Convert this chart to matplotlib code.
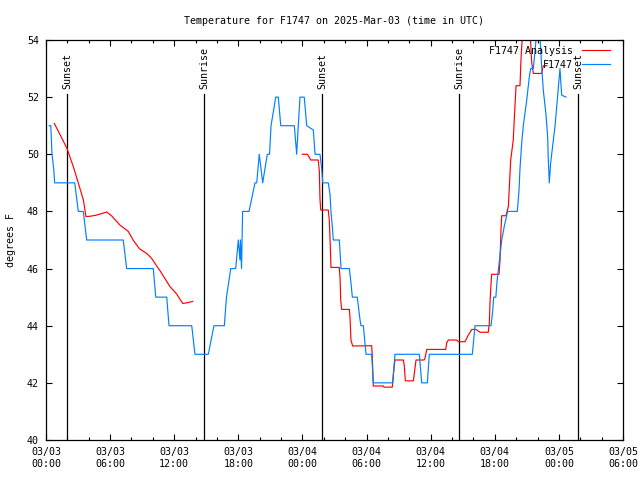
import matplotlib
matplotlib.use("Agg")
import matplotlib.pyplot as plt
from matplotlib.ticker import MultipleLocator

plt.rcParams['font.family'] = ['DejaVu Sans Mono']

title = "Temperature for F1747 on 2025-Mar-03 (time in UTC)"
ylabel = "degrees F"

# x in hours since 03/03 00:00 UTC
obs_hours = [0.3, 0.45, 0.56, 0.72, 0.81, 2.69, 3.02, 3.49, 3.81, 7.23, 7.55, 10.04, 10.27,
             11.3, 11.51, 13.64, 13.94, 15.19, 15.72, 16.69, 16.89, 17.29, 17.75, 18.0, 18.15,
             18.2, 18.3, 18.4, 19.0, 19.56, 19.72, 19.96, 20.28, 20.71, 20.92, 21.06, 21.5,
             21.74, 21.97, 23.24, 23.46, 23.61, 23.77, 24.17, 24.4, 25.02, 25.18, 25.64, 25.8,
             25.9, 26.42, 26.58, 26.67, 26.79, 26.89, 27.45, 27.61, 28.39, 28.54, 28.67, 29.13,
             29.39, 29.48, 29.7, 29.95, 30.48, 30.63, 32.45, 32.66, 34.94, 35.16, 35.69, 35.87,
             39.9, 40.15, 41.65, 41.8, 41.9, 42.1, 42.2, 42.35, 42.5, 42.65, 42.9, 43.2, 44.11,
             44.27, 44.36, 44.52, 44.67, 44.99, 45.23, 45.36, 45.61, 45.86, 46.0, 46.2, 46.39,
             46.54, 46.79, 46.95, 47.0, 47.1, 47.23, 47.42, 47.64, 47.85, 48.1, 48.26, 48.67]
obs_temp = [51, 51, 50, 49.5, 49, 49, 48, 48, 47, 47, 46, 46, 45,
            45, 44, 44, 43, 43, 44, 44, 45, 46, 46, 47, 46.3,
            47, 46, 48, 48, 49, 49, 50, 49, 50, 50, 51, 52,
            52, 51, 51, 50, 51, 52, 52, 51, 50.85, 50, 50, 49.5,
            49, 49, 48.6, 48, 47.5, 47, 47, 46, 46, 45.5, 45, 45,
            44.2, 44, 44, 43, 43, 42, 42, 43, 43, 42, 42, 43,
            43, 44, 44, 44.5, 45, 45, 45.5, 46, 46.5, 47, 47.5, 48, 48,
            48.75, 49.5, 50.4, 51, 51.9, 52.7, 53, 53, 54, 54.5, 54.3, 53.07,
            52.25, 51.4, 50.6, 49.9, 49, 49.7, 50.3, 51, 51.9, 53, 52.07, 52]

ana1_hours = [0.78, 1.5, 1.97, 2.57, 3.06, 3.5, 3.74, 4.1, 4.59, 5.0, 5.68, 6.15, 6.93, 7.7,
              8.17, 8.73, 9.42, 9.88, 10.2, 10.73, 11.6, 12.23, 12.79, 13.17, 13.73]
ana1_temp = [51.08, 50.55, 50.2, 49.55, 48.95, 48.4, 47.82, 47.83, 47.86, 47.9, 47.98, 47.84,
             47.52, 47.3, 46.99, 46.7, 46.53, 46.36, 46.18, 45.89, 45.37, 45.11, 44.78, 44.8, 44.85]

ana2_hours = [23.99, 24.46, 24.64, 24.77, 25.48, 25.58, 25.64, 25.71, 26.42, 26.51, 26.58, 26.67,
              27.45, 27.52, 27.58, 27.67, 28.39, 28.45, 28.54, 28.7, 30.48, 30.54, 30.63, 31.57,
              31.63, 32.41, 32.5, 32.66, 33.44, 33.53, 33.63, 34.38, 34.47, 34.63, 35.38, 35.47,
              35.63, 37.41, 37.5, 37.65, 38.44, 38.59, 39.21, 39.52, 39.84, 40.24, 40.62, 41.39,
              41.49, 41.55, 41.65, 41.71, 42.4, 42.49, 42.58, 42.65, 43.05, 43.27, 43.49, 43.73,
              43.83, 43.99, 44.36, 44.45, 44.61, 45.3, 45.46, 45.61, 46.39, 46.54, 46.89]
ana2_temp = [50.0, 50.0, 49.9, 49.8, 49.8, 49.4, 48.45, 48.05, 48.05, 47.7, 47.06, 46.04,
             46.04, 45.66, 44.9, 44.57, 44.57, 44.3, 43.5, 43.29, 43.3, 42.9, 41.89, 41.89,
             41.85, 41.85, 42.27, 42.8, 42.8, 42.6, 42.07, 42.07, 42.33, 42.8, 42.8, 42.86,
             43.17, 43.17, 43.4, 43.5, 43.5, 43.44, 43.44, 43.67, 43.87, 43.87, 43.77, 43.77,
             44.08, 44.78, 45.48, 45.8, 45.8, 46.3, 47.35, 47.85, 47.85, 48.17, 49.8, 50.5,
             51.26, 52.4, 52.4, 53.3, 54.3, 54.3, 53.2, 52.83, 52.83, 53.1, 53.1]

sun_hours = [1.99, 14.81, 25.86, 38.68, 49.82]
sun_labels = ["Sunset", "Sunrise", "Sunset", "Sunrise", "Sunset"]

xtick_hours = [0, 6, 12, 18, 24, 30, 36, 42, 48, 54]
xtick_labels = ["03/03\n00:00", "03/03\n06:00", "03/03\n12:00", "03/03\n18:00", "03/04\n00:00",
                "03/04\n06:00", "03/04\n12:00", "03/04\n18:00", "03/05\n00:00", "03/05\n06:00"]
yticks = [40, 42, 44, 46, 48, 50, 52, 54]

fig = plt.figure(figsize=(6.4, 4.8), dpi=100)
ax = fig.add_axes([46/640, 40/480, 577/640, 400/480])
ax.set_xlim(0, 54)
ax.set_ylim(40, 54)

red = "#ff0000"
blue = "#0080ff"
fs = 7.2
lw = 0.85

for h, lab in zip(sun_hours, sun_labels):
    ax.plot([h, h], [40, 52.1], color="black", lw=0.9)
    ax.text(h, 52.3, lab, rotation=90, ha="center", va="bottom", fontsize=fs)

ax.plot(ana1_hours, ana1_temp, color=red, lw=lw, label="F1747 Analysis")
ax.plot(ana2_hours, ana2_temp, color=red, lw=lw)
ax.plot(obs_hours, obs_temp, color=blue, lw=lw, label="F1747")

ax.set_xticks(xtick_hours)
ax.set_xticklabels(xtick_labels, fontsize=fs)
ax.xaxis.set_minor_locator(MultipleLocator(2))
ax.set_yticks(yticks)
ax.set_yticklabels([str(v) for v in yticks], fontsize=fs)
ax.tick_params(which="major", direction="in", length=4, width=0.8, top=True, right=True, pad=5)
ax.tick_params(which="minor", direction="in", length=2.5, width=0.8, top=True, right=False)
ax.tick_params(axis="y", which="minor", left=False, right=False)
for s in ax.spines.values():
    s.set_linewidth(0.9)

ax.set_ylabel(ylabel, fontsize=fs, labelpad=8)
ax.set_title(title, fontsize=fs, pad=11.5)

leg = ax.legend(loc="upper right", bbox_to_anchor=((610 - 46) / 577, 0.985), frameon=False,
                fontsize=fs, markerfirst=False, handlelength=2.8, handletextpad=0.9,
                borderaxespad=0.0, labelspacing=0.4, borderpad=0.0)
for t in leg.get_texts():
    t.set_ha("right")
leg._legend_box.align = "right"

fig.savefig("out.png", dpi=100)
